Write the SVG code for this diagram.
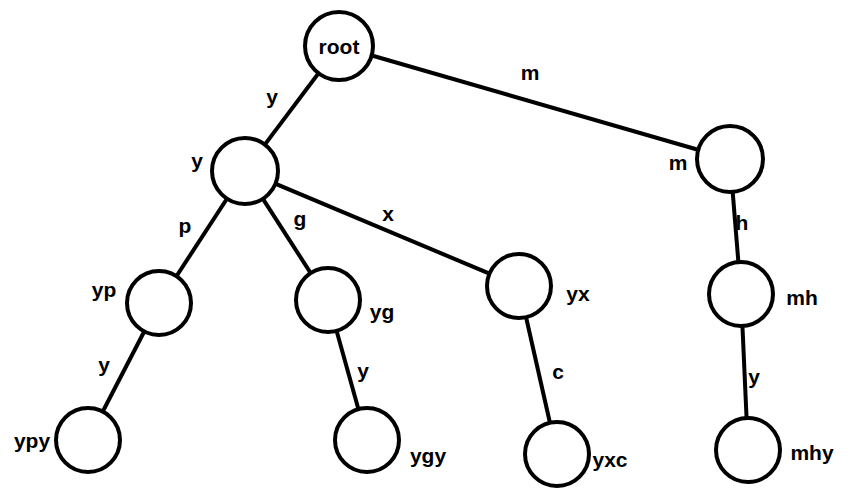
<svg xmlns="http://www.w3.org/2000/svg" width="859" height="498" viewBox="0 0 859 498">
<style>
line{stroke:#000;stroke-width:4}
circle{fill:#fff;stroke:#000;stroke-width:4}
text{font-family:"Liberation Sans",Arial,sans-serif;font-size:21px;font-weight:bold;fill:#000;text-anchor:middle;dominant-baseline:central}
</style>
<rect width="859" height="498" fill="#fff"/>
<g id="connectors">
<line x1="339" y1="46" x2="245" y2="171"/>
<line x1="339" y1="46" x2="730" y2="159"/>
<line x1="245" y1="171" x2="159" y2="303"/>
<line x1="245" y1="171" x2="328" y2="300"/>
<line x1="245" y1="171" x2="519" y2="286"/>
<line x1="730" y1="159" x2="741" y2="294"/>
<line x1="159" y1="303" x2="88" y2="440"/>
<line x1="328" y1="300" x2="367" y2="440"/>
<line x1="519" y1="286" x2="557" y2="454"/>
<line x1="741" y1="294" x2="748" y2="450"/>
<text x="272" y="96">y</text>
<text x="530" y="72">m</text>
<text x="185" y="225">p</text>
<text x="300" y="218">g</text>
<text x="388" y="213">x</text>
<text x="742" y="222">h</text>
<text x="104" y="364">y</text>
<text x="363" y="370">y</text>
<text x="558" y="371">c</text>
<text x="754" y="376">y</text>
</g>
<g id="root"><circle cx="339" cy="46" r="34"/><text x="339" y="46">root</text></g>
<g id="y"><circle cx="245" cy="171" r="33"/><text x="197" y="160">y</text></g>
<g id="m"><circle cx="730" cy="159" r="33"/><text x="678" y="162">m</text></g>
<g id="yp"><circle cx="159" cy="303" r="32"/><text x="104" y="289">yp</text></g>
<g id="yg"><circle cx="328" cy="300" r="32"/><text x="382" y="311">yg</text></g>
<g id="yx"><circle cx="519" cy="286" r="32"/><text x="578" y="293">yx</text></g>
<g id="mh"><circle cx="741" cy="294" r="32"/><text x="802" y="297">mh</text></g>
<g id="ypy"><circle cx="88" cy="440" r="32"/><text x="32" y="440">ypy</text></g>
<g id="ygy"><circle cx="367" cy="440" r="32"/><text x="428" y="455">ygy</text></g>
<g id="yxc"><circle cx="557" cy="454" r="32"/><text x="610" y="459">yxc</text></g>
<g id="mhy"><circle cx="748" cy="450" r="32"/><text x="812" y="452">mhy</text></g>
</svg>
